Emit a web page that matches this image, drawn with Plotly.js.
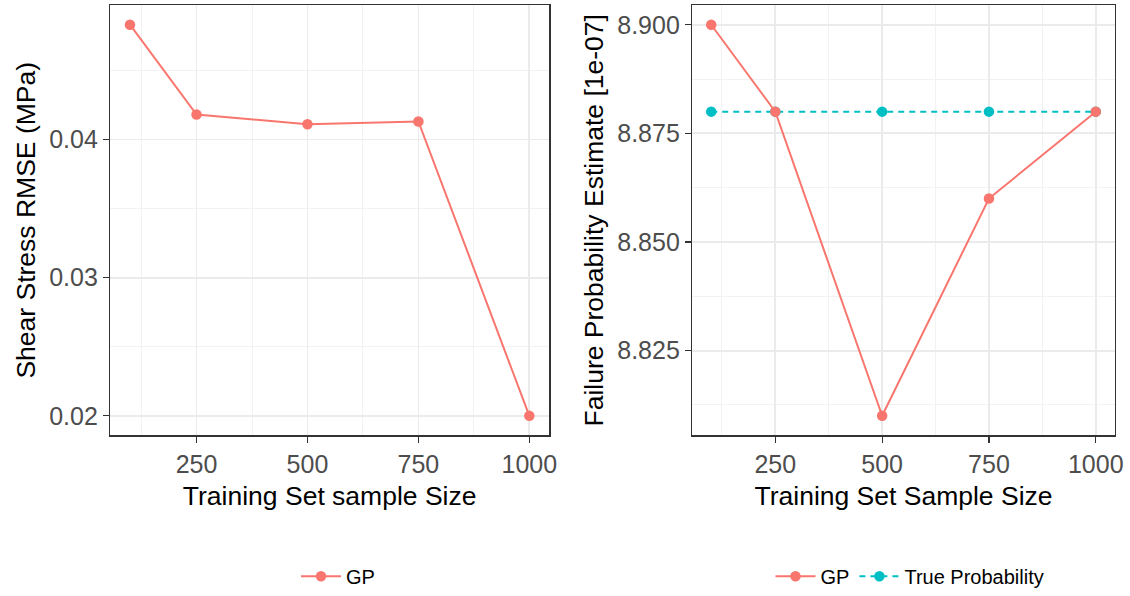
<!DOCTYPE html>
<html>
<head>
<meta charset="utf-8">
<script src="https://cdn.plot.ly/plotly-3.0.1.min.js"></script>
<style>html,body{margin:0;padding:0;background:#fff;}#chart{width:1130px;height:596px;}</style>
</head>
<body>
<div id="chart"></div>
<script>
// Data
const sampleSizes = [100, 250, 500, 750, 1000];
const rmseGP = [0.0483, 0.0418, 0.0411, 0.0413, 0.0200];
const failGP = [8.900, 8.880, 8.810, 8.860, 8.880];
const failTrue = [8.880, 8.880, 8.880, 8.880, 8.880];
const xTicks = [250, 500, 750, 1000];
const xMinor = [125, 375, 625, 875];
const y1Ticks = [0.02, 0.03, 0.04];
const y1Minor = [0.015, 0.025, 0.035, 0.045];
const y2Ticks = [8.825, 8.850, 8.875, 8.900];
const y2Minor = [8.8125, 8.8375, 8.8625, 8.8875];

const red = '#F8766D', teal = '#00BFC4';
const font = 'Liberation Sans, Arial, sans-serif';

const traces = [
  {x: sampleSizes, y: rmseGP, xaxis: 'x', yaxis: 'y', name: 'GP', mode: 'lines+markers',
   line: {color: red, width: 2}, marker: {color: red, size: 10.5}, legend: 'legend'},
  {x: sampleSizes, y: failTrue, xaxis: 'x2', yaxis: 'y2', name: 'True Probability', mode: 'lines+markers',
   line: {color: teal, width: 2, dash: '6px,5px'}, marker: {color: teal, size: 10.5}, legend: 'legend2', legendrank: 2},
  {x: sampleSizes, y: failGP, xaxis: 'x2', yaxis: 'y2', name: 'GP', mode: 'lines+markers',
   line: {color: red, width: 2}, marker: {color: red, size: 10.5}, legend: 'legend2', legendrank: 1}
];

function xa(domain, anchor, title) {
  return {
    domain: domain, anchor: anchor, range: [55, 1045], tickmode: 'array', tickvals: xTicks,
    ticks: 'outside', ticklen: 6, tickcolor: '#333333', tickwidth: 1.2,
    tickfont: {family: font, size: 25, color: '#4d4d4d'},
    showgrid: true, gridcolor: '#ebebeb', gridwidth: 1.8, zeroline: false,
    minor: {tickmode: 'array', tickvals: xMinor, showgrid: true, gridcolor: '#f2f2f2', gridwidth: 1},
    showline: true, mirror: true, linecolor: '#333333', linewidth: 1.2,
    title: {text: title, font: {family: font, size: 26.5, color: '#000'}, standoff: 10},
    automargin: false
  };
}
function ya(domain, anchor, range, ticks, minor, fmt, title, standoff) {
  return {
    domain: domain, anchor: anchor, range: range, tickmode: 'array', tickvals: ticks, tickformat: fmt,
    ticks: 'outside', ticklen: 6, tickcolor: '#333333', tickwidth: 1.2,
    tickfont: {family: font, size: 25, color: '#4d4d4d'},
    showgrid: true, gridcolor: '#ebebeb', gridwidth: 1.8, zeroline: false,
    minor: {tickmode: 'array', tickvals: minor, showgrid: true, gridcolor: '#f2f2f2', gridwidth: 1},
    showline: true, mirror: true, linecolor: '#333333', linewidth: 1.2,
    title: {text: title, font: {family: font, size: 26.5, color: '#000'}, standoff: standoff},
    automargin: false
  };
}

const yDom = [1 - 442/596, 1 - 5.3/596];
const layout = {
  width: 1130, height: 596,
  margin: {l: 0, r: 0, t: 0, b: 0},
  paper_bgcolor: '#fff', plot_bgcolor: '#fff',
  font: {family: font},
  xaxis: xa([110/1130, 549.3/1130], 'y', 'Training Set sample Size'),
  yaxis: ya(yDom, 'x', [0.01859, 0.04971], y1Ticks, y1Minor, '.2f', 'Shear Stress RMSE (MPa)', 5),
  xaxis2: xa([692/1130, 1115/1130], 'y2', 'Training Set Sample Size'),
  yaxis2: ya(yDom, 'x2', [8.8055, 8.9045], y2Ticks, y2Minor, '.3f', 'Failure Probability Estimate [1e-07]', 6),
  showlegend: true,
  legend: {orientation: 'h', x: 338/1130, y: 11/596, xanchor: 'center', yanchor: 'middle',
           font: {family: font, size: 20, color: '#000'}, bgcolor: 'rgba(0,0,0,0)', itemwidth: 40},
  legend2: {orientation: 'h', x: 910/1130, y: 11/596, xanchor: 'center', yanchor: 'middle',
           font: {family: font, size: 20, color: '#000'}, bgcolor: 'rgba(0,0,0,0)', itemwidth: 40,
           traceorder: 'normal'}
};

Plotly.newPlot('chart', traces, layout, {displayModeBar: false, staticPlot: true});
</script>
</body>
</html>
